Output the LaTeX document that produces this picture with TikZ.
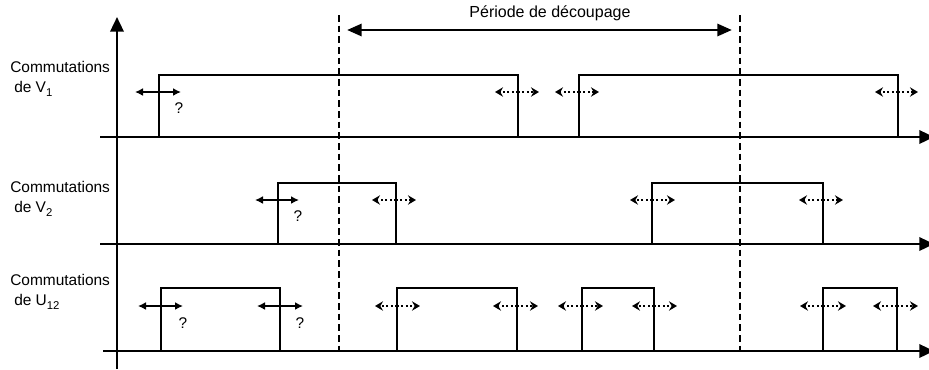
\documentclass[tikz,border=0pt]{standalone}
\usepackage{fontspec}
\setmainfont{Liberation Sans}
\usetikzlibrary{arrows.meta}
\newcommand{\lowsub}[1]{\raisebox{-0.55ex}{\fontsize{8.5}{9}\selectfont #1}}
\begin{document}
\begin{tikzpicture}[x=0.75pt,y=-0.75pt,
  axis/.style={line width=1.8pt,-{Triangle[length=11pt,width=10pt]}},
  pulse/.style={line width=1.2pt,line join=miter},
  sarr/.style={line width=1.4pt,-{Latex[length=6pt,width=6pt]}},
  darr/.style={line width=1.3pt,dash pattern=on 1.3pt off 2pt,-{Stealth[length=6pt,width=7pt,inset=2pt]}},
  per/.style={line width=2.2pt,{Triangle[length=11pt,width=9pt]}-{Triangle[length=11pt,width=9pt]}},
  sep/.style={line width=1.4pt,dash pattern=on 5pt off 3pt},
  lbl/.style={font=\fontsize{11.6}{13}\selectfont,inner sep=0pt,anchor=west},
  qm/.style={font=\fontsize{11.6}{13}\selectfont,inner sep=0pt}]
\clip (0,0) rectangle (929,369);
\fill[white] (0,0) rectangle (929,369);

% axes
\coordinate (yb) at (117,369);
\coordinate (yt) at (117,17);
\draw[axis] (yb) -- (yt);
\coordinate (a1s) at (100,137); \coordinate (a1e) at (934,137);
\coordinate (a2s) at (100,244); \coordinate (a2e) at (934,244);
\coordinate (a3s) at (103,351); \coordinate (a3e) at (934,351);
\draw[axis] (a1s) -- (a1e);
\draw[axis] (a2s) -- (a2e);
\draw[axis] (a3s) -- (a3e);

% dashed period lines
\coordinate (d1t) at (339,15); \coordinate (d1b) at (339,355);
\coordinate (d2t) at (740,15); \coordinate (d2b) at (740,355);
\draw[sep] (d1t) -- (d1b);
\draw[sep] (d2t) -- (d2b);

% period arrow
\coordinate (pL) at (347,30); \coordinate (pR) at (732,30);
\draw[per] (pL) -- (pR);
\node[font=\fontsize{12}{14}\selectfont,inner sep=0pt] (plbl) at (550,13) {Période de découpage};

% labels
\node[lbl] (c1) at (10,67) {Commutations};
\node[lbl] (v1) at (14,89) {de V\lowsub{1}};
\node[lbl] (c2) at (10,187) {Commutations};
\node[lbl] (v2) at (14,209) {de V\lowsub{2}};
\node[lbl] (c3) at (10,280) {Commutations};
\node[lbl] (u3) at (14,302) {de U\lowsub{12}};

% row 1 pulses
\draw[pulse] (159,137) -- (159,75) -- (518,75) -- (518,137);
\draw[pulse] (579,137) -- (579,75) -- (898,75) -- (898,137);
% row 2 pulses
\draw[pulse] (278,244) -- (278,183) -- (396,183) -- (396,244);
\draw[pulse] (652,244) -- (652,183) -- (823,183) -- (823,244);
% row 3 pulses
\draw[pulse] (161,351) -- (161,288) -- (280,288) -- (280,351);
\draw[pulse] (397,351) -- (397,288) -- (517,288) -- (517,351);
\draw[pulse] (582,351) -- (582,288) -- (654,288) -- (654,351);
\draw[pulse] (823,351) -- (823,288) -- (897,288) -- (897,351);

% row 1 arrows
\coordinate (r1a) at (159,92);
\draw[sarr] (r1a) -- ++(-24,0);
\draw[sarr] (r1a) -- ++(22,0);
\node[qm] (q1) at (179,108) {?};
\coordinate (r1b) at (518,92);
\draw[darr] (r1b) -- ++(-23,0);
\draw[darr] (r1b) -- ++(21,0);
\coordinate (r1c) at (579,92);
\draw[darr] (r1c) -- ++(-24,0);
\draw[darr] (r1c) -- ++(20,0);
\coordinate (r1d) at (898,92);
\draw[darr] (r1d) -- ++(-23,0);
\draw[darr] (r1d) -- ++(20,0);

% row 2 arrows
\coordinate (r2a) at (278,200);
\draw[sarr] (r2a) -- ++(-23,0);
\draw[sarr] (r2a) -- ++(21,0);
\node[qm] (q2) at (298,216) {?};
\coordinate (r2b) at (396,200);
\draw[darr] (r2b) -- ++(-24,0);
\draw[darr] (r2b) -- ++(20,0);
\coordinate (r2c) at (652,200);
\draw[darr] (r2c) -- ++(-22,0);
\draw[darr] (r2c) -- ++(23,0);
\coordinate (r2d) at (823,200);
\draw[darr] (r2d) -- ++(-24,0);
\draw[darr] (r2d) -- ++(20,0);

% row 3 arrows
\coordinate (r3a) at (161,306);
\draw[sarr] (r3a) -- ++(-23,0);
\draw[sarr] (r3a) -- ++(22,0);
\node[qm] (q3) at (183,323) {?};
\coordinate (r3b) at (280,306);
\draw[sarr] (r3b) -- ++(-23,0);
\draw[sarr] (r3b) -- ++(23,0);
\node[qm] (q4) at (300,323) {?};
\coordinate (r3c) at (397,306);
\draw[darr] (r3c) -- ++(-22,0);
\draw[darr] (r3c) -- ++(23,0);
\coordinate (r3d) at (517,306);
\draw[darr] (r3d) -- ++(-24,0);
\draw[darr] (r3d) -- ++(21,0);
\coordinate (r3e) at (582,306);
\draw[darr] (r3e) -- ++(-24,0);
\draw[darr] (r3e) -- ++(21,0);
\coordinate (r3f) at (654,306);
\draw[darr] (r3f) -- ++(-22,0);
\draw[darr] (r3f) -- ++(23,0);
\coordinate (r3g) at (823,306);
\draw[darr] (r3g) -- ++(-23,0);
\draw[darr] (r3g) -- ++(23,0);
\coordinate (r3h) at (897,306);
\draw[darr] (r3h) -- ++(-24,0);
\draw[darr] (r3h) -- ++(21,0);
\end{tikzpicture}
\end{document}
